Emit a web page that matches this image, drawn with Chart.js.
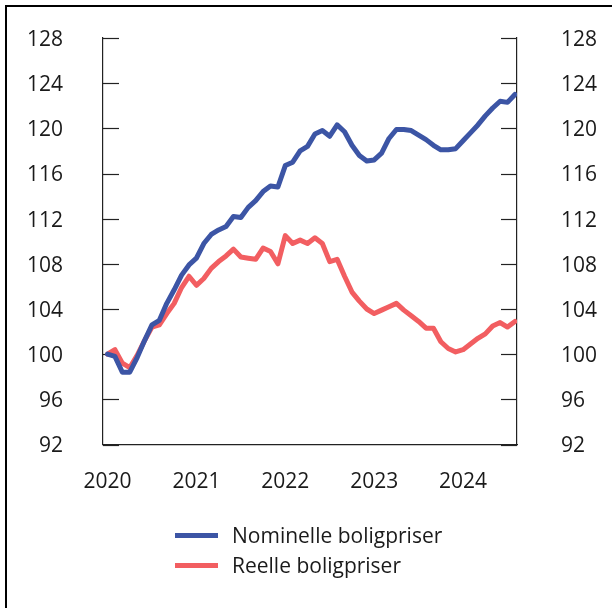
<!DOCTYPE html>
<html>
<head>
<meta charset="utf-8">
<script src="https://cdn.jsdelivr.net/npm/chart.js@4/dist/chart.umd.min.js"></script>
<style>
  html, body { margin: 0; padding: 0; background: #fff; }
  body { width: 612px; height: 608px; position: relative; overflow: hidden; font-family: "Open Sans", sans-serif; }
  #frame { position: absolute; left: 5px; top: 5px; width: 620px; height: 620px; border-top: 2.5px solid #000; border-left: 2.5px solid #000; box-sizing: border-box; }
  #c { position: absolute; left: 0; top: 0; }
  #legend { position: absolute; left: 175px; top: 520px; }
  .row { display: flex; align-items: center; height: 30px; font-size: 21px; line-height: 30px; color: #1a1a1a; white-space: nowrap; }
  .sw { width: 43px; height: 5px; margin-right: 14px; }
</style>
</head>
<body>
<div id="frame"></div>
<canvas id="c" width="612" height="608"></canvas>
<div id="legend"></div>
<script>
// Month index 0 = Jan 2020 ... 55 = Aug 2024
const years = ['2020', '2021', '2022', '2023', '2024'];
const yTicks = [92, 96, 100, 104, 108, 112, 116, 120, 124, 128];
const seriesNames = ['Nominelle boligpriser', 'Reelle boligpriser'];
const nominelle = [
  100.0, 99.8, 98.4, 98.4, 99.7, 101.2, 102.6, 103.0, 104.5, 105.7, 107.0, 107.9,
  108.5, 109.8, 110.6, 111.0, 111.3, 112.2, 112.1, 113.0, 113.6, 114.4, 114.9, 114.8,
  116.7, 117.0, 118.0, 118.4, 119.5, 119.8, 119.3, 120.3, 119.7, 118.5, 117.6, 117.1,
  117.2, 117.8, 119.1, 119.9, 119.9, 119.8, 119.4, 119.0, 118.5, 118.1, 118.1, 118.2,
  118.9, 119.6, 120.3, 121.1, 121.8, 122.4, 122.3, 123.0
];
const reelle = [
  100.0, 100.4, 99.2, 98.8, 99.9, 101.2, 102.4, 102.6, 103.6, 104.5, 105.9, 106.9,
  106.1, 106.7, 107.6, 108.2, 108.7, 109.3, 108.6, 108.5, 108.4, 109.4, 109.1, 108.0,
  110.5, 109.8, 110.1, 109.8, 110.3, 109.8, 108.2, 108.4, 106.9, 105.5, 104.7, 104.0,
  103.6, 103.9, 104.2, 104.5, 103.9, 103.4, 102.9, 102.3, 102.3, 101.1, 100.5, 100.2,
  100.4, 100.9, 101.4, 101.8, 102.5, 102.8, 102.4, 102.9
];
const colors = ['#3C55A5', '#F25E61'];

const toPoints = arr => arr.map((v, i) => ({ x: i, y: v }));
const FONT = { family: '"Open Sans", sans-serif', size: 21 };
const TXT = '#1a1a1a';

const innerTicks = {
  id: 'innerTicks',
  beforeDatasetsDraw(chart) {
    const { ctx, chartArea } = chart;
    ctx.save();
    ctx.strokeStyle = '#222';
    ctx.lineWidth = 1.2;
    ['y', 'y2'].forEach(id => {
      const s = chart.scales[id];
      s.ticks.forEach(t => {
        const py = Math.round(s.getPixelForValue(t.value)) + 0.5;
        ctx.beginPath();
        if (id === 'y') { ctx.moveTo(chartArea.left, py); ctx.lineTo(chartArea.left + 16, py); }
        else { ctx.moveTo(chartArea.right - 16, py); ctx.lineTo(chartArea.right, py); }
        ctx.stroke();
      });
    });
    ctx.restore();
  }
};

const yScale = (pos, width, pad) => ({
  position: pos,
  min: 92, max: 128,
  afterBuildTicks: s => { s.ticks = yTicks.map(v => ({ value: v })); },
  afterFit: s => { s.width = width; s.paddingTop = 0; s.paddingBottom = 0; },
  ticks: { font: FONT, color: TXT, padding: pad, labelOffset: 2, callback: v => String(v) },
  grid: { drawOnChartArea: false, drawTicks: false },
  border: { display: true, color: '#222', width: 1.2 }
});

const chart = new Chart(document.getElementById('c'), {
  type: 'line',
  data: {
    datasets: [
      { label: seriesNames[0], data: toPoints(nominelle), borderColor: colors[0], backgroundColor: colors[0] },
      { label: seriesNames[1], data: toPoints(reelle), borderColor: colors[1], backgroundColor: colors[1] }
    ]
  },
  options: {
    responsive: false,
    animation: false,
    layout: { padding: { top: 38, bottom: 0, left: 0, right: 0 } },
    elements: {
      line: { borderWidth: 5, tension: 0, borderCapStyle: 'round', borderJoinStyle: 'round' },
      point: { radius: 0 }
    },
    plugins: { legend: { display: false }, tooltip: { enabled: false } },
    scales: {
      x: {
        type: 'linear',
        min: -0.61, max: 55.28,
        afterBuildTicks: s => { s.ticks = years.map((_, k) => ({ value: k * 12 })); },
        afterFit: s => { s.height = 608 - 444.5; s.paddingLeft = 0; s.paddingRight = 0; },
        ticks: { font: FONT, color: TXT, padding: 25, autoSkip: false, maxRotation: 0,
                 callback: v => years[Math.round(v / 12)] },
        grid: { drawOnChartArea: false, drawTicks: false },
        border: { display: true, color: '#222', width: 1.2 }
      },
      y: yScale('left', 103, 40),
      y2: yScale('right', 95, 44)
    }
  },
  plugins: [innerTicks]
});

const leg = document.getElementById('legend');
chart.data.datasets.forEach(ds => {
  const row = document.createElement('div');
  row.className = 'row';
  const sw = document.createElement('span');
  sw.className = 'sw';
  sw.style.background = ds.borderColor;
  const tx = document.createElement('span');
  tx.textContent = ds.label;
  row.appendChild(sw); row.appendChild(tx);
  leg.appendChild(row);
});
</script>
</body>
</html>
